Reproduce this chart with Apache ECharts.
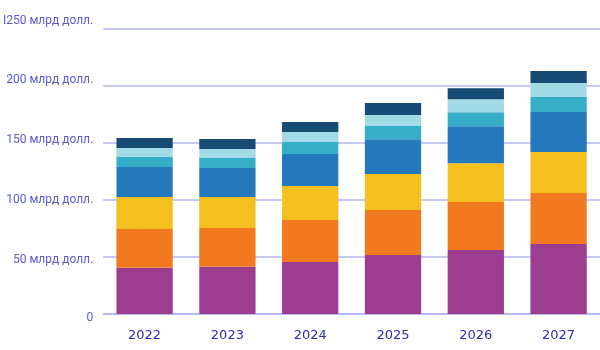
<!DOCTYPE html>
<html>
<head>
<meta charset="utf-8">
<script src="https://cdn.jsdelivr.net/npm/echarts@6/dist/echarts.min.js"></script>
<style>
	html, body { margin: 0; padding: 0; background: #fff; }
	#main { width: 600px; height: 350px; }
</style>
</head>
<body>
<div id="main"></div>
<script>
	// годы
	var years = ['2022', '2023', '2024', '2025', '2026', '2027'];
	// сегменты стека, снизу вверх (млрд долл.)
	var s1 = [40.5, 41.4, 45.5, 51.7, 56.0, 61.3];
	var s2 = [33.9, 33.9, 36.8, 39.4, 42.1, 44.7];
	var s3 = [28.1, 27.2, 29.8, 31.5, 33.9, 35.9];
	var s4 = [26.2, 25.3, 28.0, 30.4, 32.4, 35.0];
	var s5 = [8.8, 8.8, 10.5, 11.6, 12.3, 13.1];
	var s6 = [7.9, 7.8, 8.8, 9.7, 11.4, 12.3];
	var s7 = [8.7, 8.8, 8.7, 10.5, 9.6, 10.5];
	// подписи оси Y
	var yLabels = { 0: '0', 50: '50 млрд долл.', 100: '100 млрд долл.', 150: '150 млрд долл.', 200: '200 млрд долл.', 250: 'I250 млрд долл.' };

	var colors = ['#9c3d8f', '#f17a21', '#f4c020', '#2479bc', '#37aec8', '#a2dbe6', '#164c74'];
	var seriesData = [s1, s2, s3, s4, s5, s6, s7];

	// сдвиг подписей относительно линий сетки (в оригинале они чуть "разъехались")
	var shift = { 0: 4, 50: 3, 100: 0.5, 150: -2.8, 200: -5.5, 250: -8 };
	var rich = {};
	Object.keys(shift).forEach(function(k) {
		var d = shift[k];
		rich['v' + k] = {
			color: '#5a5ad0',
			fontSize: 12,
			fontFamily: 'Roboto',
			padding: d > 0 ? [2 * d, 0, 0, 0] : [0, 0, -2 * d, 0]
		};
	});

	var myChart = echarts.init(document.getElementById('main'));
	myChart.setOption({
		animation: false,
		grid: {
			left: 102,
			right: 0,
			top: 28.5,
			bottom: 36
		},
		xAxis: {
			type: 'category',
			data: years,
			axisTick: { show: false },
			axisLine: { lineStyle: { color: '#b4b4f2', width: 1.5 } },
			axisLabel: {
				color: '#2b2bb5',
				fontSize: 13,
				fontFamily: 'DejaVu Sans',
				margin: 15
			}
		},
		yAxis: {
			type: 'value',
			min: 0,
			max: 250,
			interval: 50,
			axisLine: { show: false },
			axisTick: { show: false },
			splitLine: { lineStyle: { color: '#b4b4f2', width: 1.5 } },
			axisLabel: {
				margin: 10,
				formatter: function(v) {
					return '{v' + v + '|' + yLabels[v] + '}';
				},
				rich: rich
			}
		},
		series: seriesData.map(function(d, i) {
			return {
				type: 'bar',
				stack: 'total',
				barWidth: '68%',
				itemStyle: { color: colors[i] },
				data: d
			};
		})
	});
</script>
</body>
</html>
